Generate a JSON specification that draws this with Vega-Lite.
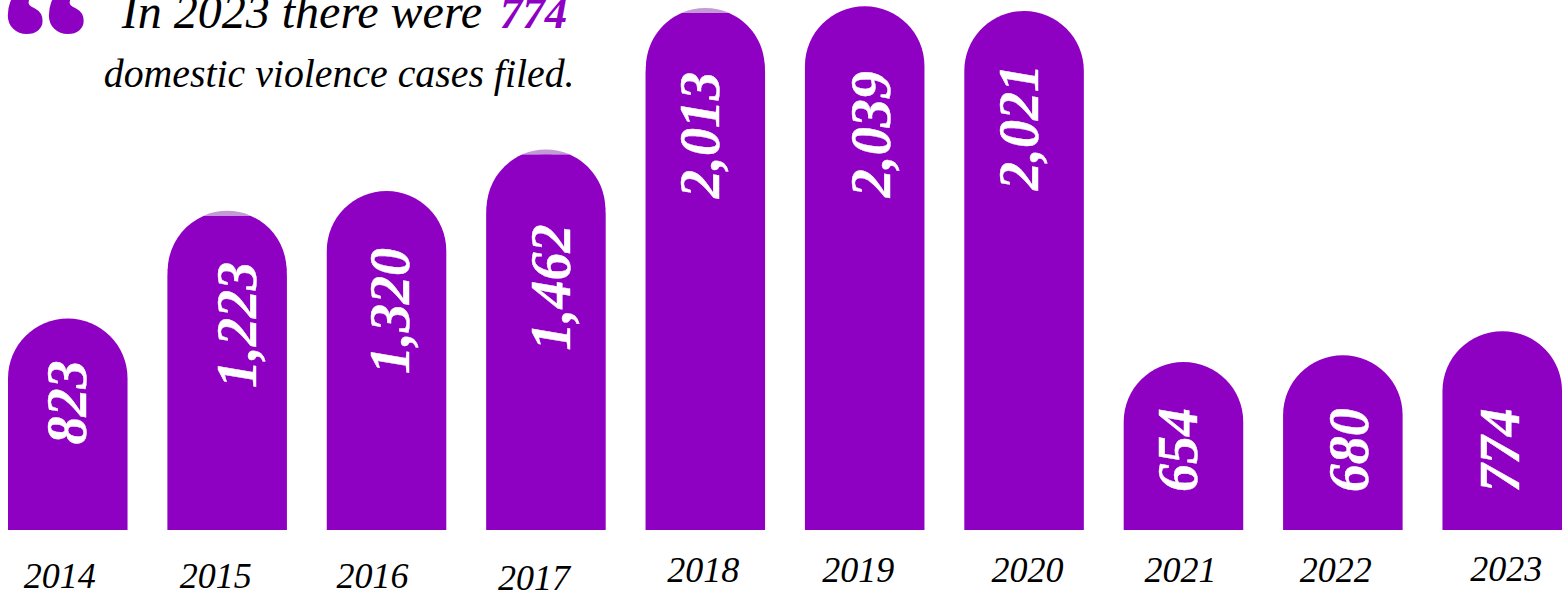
{
  "$schema": "https://vega.github.io/schema/vega-lite/v6.json",
  "width": 1562,
  "height": 591,
  "padding": 0,
  "autosize": {"type": "none"},
  "background": "white",
  "config": {"view": {"stroke": null}},
  "data": {"values": [
      {"year": 2014, "cases": 823, "label": "823"},
      {"year": 2015, "cases": 1223, "label": "1,223"},
      {"year": 2016, "cases": 1320, "label": "1,320"},
      {"year": 2017, "cases": 1462, "label": "1,462"},
      {"year": 2018, "cases": 2013, "label": "2,013"},
      {"year": 2019, "cases": 2039, "label": "2,039"},
      {"year": 2020, "cases": 2021, "label": "2,021"},
      {"year": 2021, "cases": 654, "label": "654"},
      {"year": 2022, "cases": 680, "label": "680"},
      {"year": 2023, "cases": 774, "label": "774"}
  ]},
  "encoding": {
    "x": {"field": "year", "type": "ordinal", "axis": null, "scale": {"domain": [2014,2015,2016,2017,2018,2019,2020,2021,2022,2023], "range": [8, 1562], "paddingInner": 0.25, "paddingOuter": 0}},
    "y": {"field": "cases", "type": "quantitative", "axis": null, "stack": null, "scale": {"domain": [0, 2039], "range": [530, 6.3], "nice": false, "zero": false}}
  },
  "layer": [
    {"mark": {"type": "bar", "color": "#8E00C2", "cornerRadiusTopLeft": 60, "cornerRadiusTopRight": 60}},
    {"transform": [{"filter": {"field": "year", "oneOf": [2015, 2017, 2018]}}],
     "mark": {"type": "point", "filled": true, "opacity": 1, "color": "#C49AD6", "size": 14400, "shape": "M-0.4,0 C-0.1449,-0.1113 0.1449,-0.1113 0.4,0 Z"}},
    {"transform": [{"filter": {"field": "year", "oneOf": [2015, 2017, 2018]}}],
     "mark": {"type": "point", "filled": true, "opacity": 1, "color": "#8E00C2", "size": 14100, "shape": "M-0.4,0 L0.4,0 C0.7643,0.159 1,0.519 1,0.9165 L0.9,1.1 L-0.9,1.1 L-1,0.9165 C-1,0.519 -0.7643,0.159 -0.4,0 Z"}},

    {"transform": [{"filter": "datum.year === 2014"}], "mark": {"type": "text", "text": {"expr": "datum.label"}, "angle": 270, "align": "center", "baseline": "middle", "font": "Liberation Serif", "fontStyle": "italic", "fontWeight": "bold", "fontSize": 56, "color": "white", "stroke": "white", "strokeWidth": 0.4, "dx": -84, "dy": 1}},
    {"transform": [{"filter": "datum.year === 2015"}], "mark": {"type": "text", "text": {"expr": "datum.label"}, "angle": 270, "align": "center", "baseline": "middle", "font": "Liberation Serif", "fontStyle": "italic", "fontWeight": "bold", "fontSize": 56, "color": "white", "stroke": "white", "strokeWidth": 0.4, "dx": -109, "dy": 12}},
    {"transform": [{"filter": "datum.year === 2016"}], "mark": {"type": "text", "text": {"expr": "datum.label"}, "angle": 270, "align": "center", "baseline": "middle", "font": "Liberation Serif", "fontStyle": "italic", "fontWeight": "bold", "fontSize": 56, "color": "white", "stroke": "white", "strokeWidth": 0.4, "dx": -120, "dy": 5}},
    {"transform": [{"filter": "datum.year === 2017"}], "mark": {"type": "text", "text": {"expr": "datum.label"}, "angle": 270, "align": "center", "baseline": "middle", "font": "Liberation Serif", "fontStyle": "italic", "fontWeight": "bold", "fontSize": 56, "color": "white", "stroke": "white", "strokeWidth": 0.4, "dx": -133, "dy": 7}},
    {"transform": [{"filter": "datum.year === 2018"}], "mark": {"type": "text", "text": {"expr": "datum.label"}, "angle": 270, "align": "center", "baseline": "middle", "font": "Liberation Serif", "fontStyle": "italic", "fontWeight": "bold", "fontSize": 56, "color": "white", "stroke": "white", "strokeWidth": 0.4, "dx": -122, "dy": -3}},
    {"transform": [{"filter": "datum.year === 2019"}], "mark": {"type": "text", "text": {"expr": "datum.label"}, "angle": 270, "align": "center", "baseline": "middle", "font": "Liberation Serif", "fontStyle": "italic", "fontWeight": "bold", "fontSize": 56, "color": "white", "stroke": "white", "strokeWidth": 0.4, "dx": -128, "dy": 8}},
    {"transform": [{"filter": "datum.year === 2020"}], "mark": {"type": "text", "text": {"expr": "datum.label"}, "angle": 270, "align": "center", "baseline": "middle", "font": "Liberation Serif", "fontStyle": "italic", "fontWeight": "bold", "fontSize": 56, "color": "white", "stroke": "white", "strokeWidth": 0.4, "dx": -116, "dy": -3}},
    {"transform": [{"filter": "datum.year === 2021"}], "mark": {"type": "text", "text": {"expr": "datum.label"}, "angle": 270, "align": "center", "baseline": "middle", "font": "Liberation Serif", "fontStyle": "italic", "fontWeight": "bold", "fontSize": 56, "color": "white", "stroke": "white", "strokeWidth": 0.4, "dx": -88, "dy": -3}},
    {"transform": [{"filter": "datum.year === 2022"}], "mark": {"type": "text", "text": {"expr": "datum.label"}, "angle": 270, "align": "center", "baseline": "middle", "font": "Liberation Serif", "fontStyle": "italic", "fontWeight": "bold", "fontSize": 56, "color": "white", "stroke": "white", "strokeWidth": 0.4, "dx": -95, "dy": 8}},
    {"transform": [{"filter": "datum.year === 2023"}], "mark": {"type": "text", "text": {"expr": "datum.label"}, "angle": 270, "align": "center", "baseline": "middle", "font": "Liberation Serif", "fontStyle": "italic", "fontWeight": "bold", "fontSize": 56, "color": "white", "stroke": "white", "strokeWidth": 0.4, "dx": -119, "dy": 0}},

    {"transform": [{"filter": "datum.year === 2014"}], "encoding": {"y": {"datum": 0}, "text": {"field": "year"}}, "mark": {"type": "text", "font": "Liberation Serif", "fontStyle": "italic", "fontSize": 36, "color": "black", "baseline": "alphabetic", "dx": -8, "dy": 58}},
    {"transform": [{"filter": "datum.year === 2015"}], "encoding": {"y": {"datum": 0}, "text": {"field": "year"}}, "mark": {"type": "text", "font": "Liberation Serif", "fontStyle": "italic", "fontSize": 36, "color": "black", "baseline": "alphabetic", "dx": -11.5, "dy": 58}},
    {"transform": [{"filter": "datum.year === 2016"}], "encoding": {"y": {"datum": 0}, "text": {"field": "year"}}, "mark": {"type": "text", "font": "Liberation Serif", "fontStyle": "italic", "fontSize": 36, "color": "black", "baseline": "alphabetic", "dx": -14, "dy": 58}},
    {"transform": [{"filter": "datum.year === 2017"}], "encoding": {"y": {"datum": 0}, "text": {"field": "year"}}, "mark": {"type": "text", "font": "Liberation Serif", "fontStyle": "italic", "fontSize": 36, "color": "black", "baseline": "alphabetic", "dx": -12, "dy": 60}},
    {"transform": [{"filter": "datum.year === 2018"}], "encoding": {"y": {"datum": 0}, "text": {"field": "year"}}, "mark": {"type": "text", "font": "Liberation Serif", "fontStyle": "italic", "fontSize": 36, "color": "black", "baseline": "alphabetic", "dx": -2, "dy": 52}},
    {"transform": [{"filter": "datum.year === 2019"}], "encoding": {"y": {"datum": 0}, "text": {"field": "year"}}, "mark": {"type": "text", "font": "Liberation Serif", "fontStyle": "italic", "fontSize": 36, "color": "black", "baseline": "alphabetic", "dx": -6.5, "dy": 52}},
    {"transform": [{"filter": "datum.year === 2020"}], "encoding": {"y": {"datum": 0}, "text": {"field": "year"}}, "mark": {"type": "text", "font": "Liberation Serif", "fontStyle": "italic", "fontSize": 36, "color": "black", "baseline": "alphabetic", "dx": 3.5, "dy": 52}},
    {"transform": [{"filter": "datum.year === 2021"}], "encoding": {"y": {"datum": 0}, "text": {"field": "year"}}, "mark": {"type": "text", "font": "Liberation Serif", "fontStyle": "italic", "fontSize": 36, "color": "black", "baseline": "alphabetic", "dx": -3, "dy": 52}},
    {"transform": [{"filter": "datum.year === 2022"}], "encoding": {"y": {"datum": 0}, "text": {"field": "year"}}, "mark": {"type": "text", "font": "Liberation Serif", "fontStyle": "italic", "fontSize": 36, "color": "black", "baseline": "alphabetic", "dx": -7, "dy": 52}},
    {"transform": [{"filter": "datum.year === 2023"}], "encoding": {"y": {"datum": 0}, "text": {"field": "year"}}, "mark": {"type": "text", "font": "Liberation Serif", "fontStyle": "italic", "fontSize": 36, "color": "black", "baseline": "alphabetic", "dx": 4, "dy": 51}},

    {"transform": [{"filter": "datum.year === 2014"}], "encoding": {"y": {"datum": 0}, "text": {"datum": "\u201c"}}, "mark": {"type": "text", "font": "Liberation Serif", "fontWeight": "bold", "fontSize": 187, "color": "#8E00C2", "stroke": "#8E00C2", "strokeWidth": 2, "align": "left", "baseline": "alphabetic", "dx": -68, "dy": -429.4}},
    {"transform": [{"filter": "datum.year === 2014"}], "encoding": {"y": {"datum": 0}, "text": {"datum": "In 2023 there were"}}, "mark": {"type": "text", "font": "Liberation Serif", "fontStyle": "italic", "fontSize": 48, "color": "black", "align": "left", "baseline": "alphabetic", "dx": 54, "dy": -502}},
    {"transform": [{"filter": "datum.year === 2014"}], "encoding": {"y": {"datum": 0}, "text": {"datum": "774"}}, "mark": {"type": "text", "font": "Liberation Serif", "fontStyle": "italic", "fontWeight": "bold", "fontSize": 45, "color": "#8E00C2", "align": "left", "baseline": "alphabetic", "dx": 432, "dy": -502}},
    {"transform": [{"filter": "datum.year === 2014"}], "encoding": {"y": {"datum": 0}, "text": {"datum": "domestic violence cases filed."}}, "mark": {"type": "text", "font": "Liberation Serif", "fontStyle": "italic", "fontSize": 39.8, "color": "black", "align": "left", "baseline": "alphabetic", "dx": 36, "dy": -443}}
  ]
}
